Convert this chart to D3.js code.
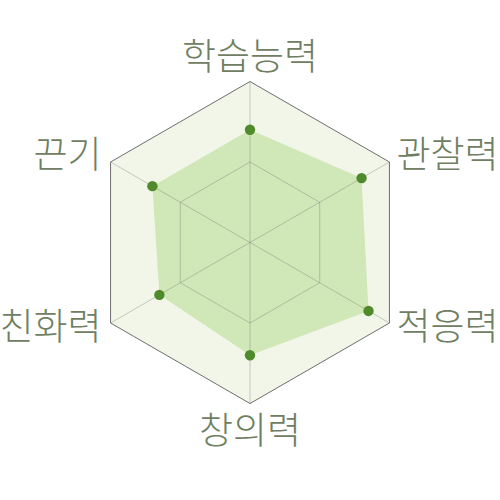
<!DOCTYPE html>
<html>
<head>
<meta charset="utf-8">
<script src="https://cdn.jsdelivr.net/npm/d3@7"></script>
<style>
  body { margin: 0; background: #fff; }
</style>
</head>
<body>
<div id="radar"></div>
<script>
// axes go clockwise from the top
var labels = ["학습능력", "관찰력", "적응력", "창의력", "친화력", "끈기"];
var values = [70, 80, 85, 70, 65, 70];
var maxValue = 100;
var levels = [50, 100];

var width = 500, height = 500;
var cx = 250, cy = 242.5, radius = 161;

var svg = d3.select("#radar")
    .append("svg")
    .attr("width", width)
    .attr("height", height);

var g = svg.append("g")
    .attr("transform", "translate(" + cx + "," + cy + ")");

var r = d3.scaleLinear()
    .domain([0, maxValue])
    .range([0, radius]);

var angle = d3.scalePoint()
    .domain(labels)
    .range([0, 2 * Math.PI * (labels.length - 1) / labels.length]);

function point(name, v) {
    var a = angle(name);
    return [r(v) * Math.sin(a), -r(v) * Math.cos(a)];
}

var line = d3.line().curve(d3.curveLinearClosed);

// outer background hexagon
g.append("path")
    .attr("d", line(labels.map(function (d) { return point(d, maxValue); })))
    .attr("fill", "#f2f6e9")
    .attr("stroke", "#6e6e6e")
    .attr("stroke-width", 1);

// data area
g.append("path")
    .attr("d", line(labels.map(function (d, i) { return point(d, values[i]); })))
    .attr("fill", "#d0e7b7")
    .attr("stroke", "none");

// inner grid level
levels.slice(0, -1).forEach(function (lv) {
    g.append("path")
        .attr("d", line(labels.map(function (d) { return point(d, lv); })))
        .attr("fill", "none")
        .attr("stroke", "rgba(110,110,110,0.35)")
        .attr("stroke-width", 1);
});

// spokes
g.selectAll(".spoke")
    .data(labels)
    .enter()
    .append("line")
    .attr("class", "spoke")
    .attr("x1", 0)
    .attr("y1", 0)
    .attr("x2", function (d) { return point(d, maxValue)[0]; })
    .attr("y2", function (d) { return point(d, maxValue)[1]; })
    .attr("stroke", "rgba(110,110,110,0.35)")
    .attr("stroke-width", 1);

// points
g.selectAll(".dot")
    .data(labels)
    .enter()
    .append("circle")
    .attr("class", "dot")
    .attr("cx", function (d, i) { return point(d, values[i])[0]; })
    .attr("cy", function (d, i) { return point(d, values[i])[1]; })
    .attr("r", 5.2)
    .attr("fill", "#4f8a2b");

// labels
g.selectAll(".label")
    .data(labels)
    .enter()
    .append("text")
    .attr("class", "label")
    .attr("x", function (d) {
        var p = point(d, maxValue);
        if (Math.abs(p[0]) < 1) return p[0];
        return p[0] + (p[0] > 0 ? 7 : -9);
    })
    .attr("y", function (d) {
        var p = point(d, maxValue);
        if (Math.abs(p[0]) < 1) return p[1] < 0 ? p[1] - 12 : p[1] + 40;
        return p[1] < 0 ? p[1] + 6 : p[1] + 17;
    })
    .attr("text-anchor", function (d) {
        var p = point(d, maxValue);
        if (Math.abs(p[0]) < 1) return "middle";
        return p[0] > 0 ? "start" : "end";
    })
    .attr("fill", "#6f8062")
    .attr("font-family", "'Noto Sans CJK KR', sans-serif")
    .attr("font-weight", 300)
    .attr("font-size", "37px")
    .text(function (d) { return d; });
</script>
</body>
</html>
